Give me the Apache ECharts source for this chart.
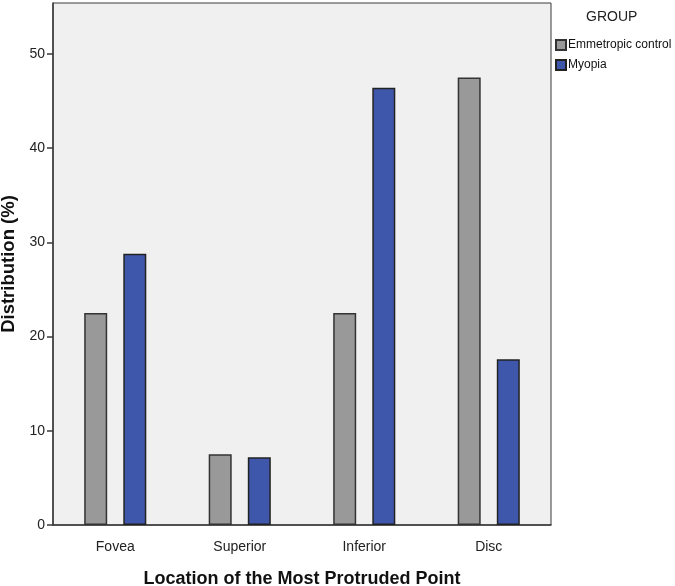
<!DOCTYPE html>
<html>
<head>
<meta charset="utf-8">
<script src="https://cdn.jsdelivr.net/npm/echarts@6/dist/echarts.min.js"></script>
<style>
  html, body { margin: 0; padding: 0; background: #fff; }
  #chart { width: 675px; height: 586px; }
</style>
</head>
<body>
<div id="chart"></div>
<script>
// locations along the x axis
const locations = ["Fovea", "Superior", "Inferior", "Disc"];
// percentage distribution per group
const emmetropic = [22.5, 7.5, 22.5, 47.5];
const myopia = [28.8, 7.2, 46.4, 17.6];
const groupNames = ["Emmetropic control", "Myopia"];

const FONT = "Liberation Sans, Arial, sans-serif";
const LINE = "#3a3a3a";

const chart = echarts.init(document.getElementById("chart"));
chart.setOption({
  animation: false,
  title: {
    text: "GROUP", left: 586, top: 10, padding: 0,
    textStyle: { fontFamily: FONT, fontSize: 14, fontWeight: "normal", color: "#222" }
  },
  legend: {
    data: groupNames, orient: "vertical", left: 555, top: 39, padding: 0,
    itemWidth: 10, itemHeight: 10, itemGap: 8, icon: "rect",
    textStyle: { fontFamily: FONT, fontSize: 12, color: "#111", padding: [0, 0, 0, -3] }
  },
  grid: {
    left: 53, top: 3, width: 498, height: 522, show: true, outerBoundsMode: "none",
    backgroundColor: "#f0f0f0", borderColor: LINE, borderWidth: 1
  },
  xAxis: {
    type: "category", data: locations,
    name: "Location of the Most Protruded Point", nameLocation: "middle", nameGap: 45,
    nameTextStyle: { fontFamily: FONT, fontSize: 18, fontWeight: "bold", color: "#111" },
    axisLine: { lineStyle: { color: LINE, width: 1.5 } },
    axisTick: { alignWithLabel: true, length: 6, lineStyle: { color: LINE, width: 1.5 } },
    axisLabel: { fontFamily: FONT, fontSize: 14, color: "#222", margin: 15 }
  },
  yAxis: {
    type: "value", min: 0, max: 55.4, interval: 10,
    name: "Distribution (%)", nameLocation: "middle", nameGap: 31,
    nameTextStyle: { fontFamily: FONT, fontSize: 18.5, fontWeight: "bold", color: "#111" },
    axisLine: { show: true, lineStyle: { color: LINE, width: 1.5 } },
    axisTick: { show: true, length: 6, lineStyle: { color: LINE, width: 1.5 } },
    axisLabel: { fontFamily: FONT, fontSize: 14, color: "#222", margin: 8,
      showMaxLabel: false },
    splitLine: { show: false }
  },
  series: [
    { name: groupNames[0], type: "bar", data: emmetropic, barWidth: 23, barGap: "70%",
      itemStyle: { color: "#999999", borderColor: "#333", borderWidth: 1.5 } },
    { name: groupNames[1], type: "bar", data: myopia, barWidth: 23,
      itemStyle: { color: "#3e57ab", borderColor: "#222", borderWidth: 1.5 } }
  ]
});
</script>
</body>
</html>
